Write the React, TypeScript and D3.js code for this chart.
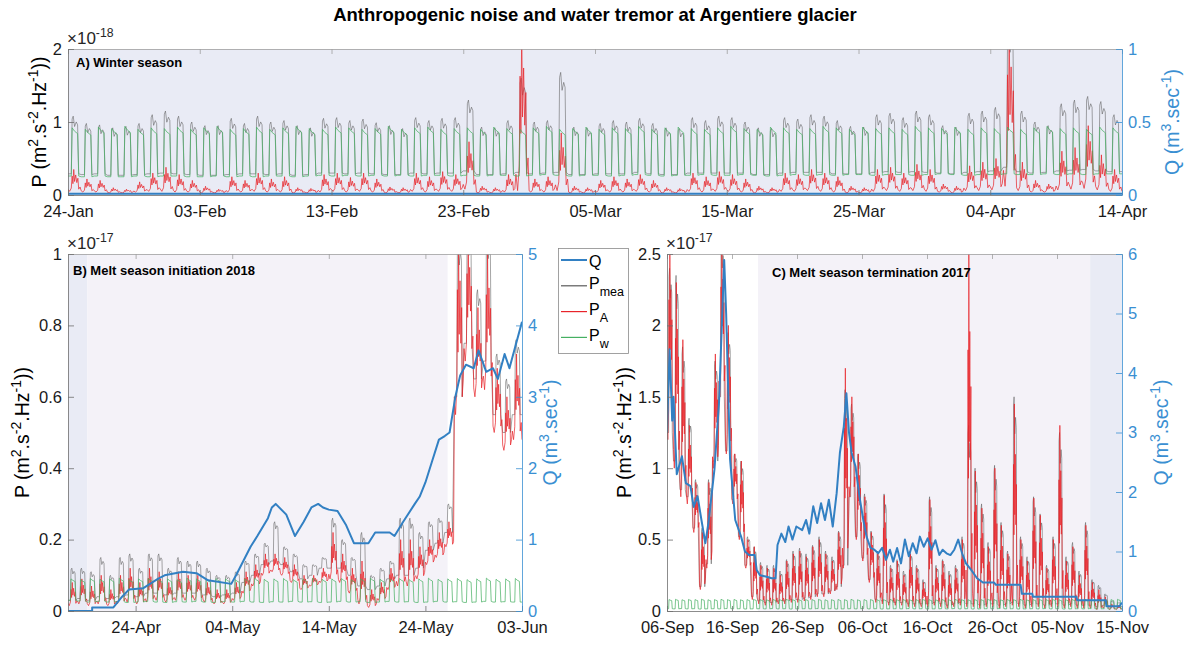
import React, { useRef, useEffect } from 'react';
import * as d3 from 'd3';

type Pt = [number, number];

// ---------- panel A : winter season 2018, day 0 = 24-Jan (P in 1e-18) ----------
const tickDaysA = [0, 10, 20, 30, 40, 50, 60, 70, 80];
const tickLabelsA = ['24-Jan', '03-Feb', '13-Feb', '23-Feb', '05-Mar', '15-Mar', '25-Mar', '04-Apr', '14-Apr'];
const pTicksA = [0, 1, 2];
const qTicksA = [0, 0.5, 1];

const pwLoA = [
  0.26, 0.25, 0.26, 0.25, 0.25, 0.26, 0.25, 0.26, 0.26, 0.25,
  0.25, 0.26, 0.25, 0.26, 0.25, 0.26, 0.26, 0.25, 0.26, 0.27,
  0.26, 0.27, 0.26, 0.27, 0.26, 0.27, 0.26, 0.27, 0.27, 0.26,
  0.27, 0.26, 0.27, 0.27, 0.26, 0.27, 0.28, 0.27, 0.26, 0.27,
  0.27, 0.26, 0.27, 0.28, 0.27, 0.26, 0.27, 0.27, 0.28, 0.27,
  0.27, 0.28, 0.27, 0.26, 0.27, 0.28, 0.27, 0.28, 0.27, 0.28,
  0.28, 0.27, 0.28, 0.28, 0.27, 0.28, 0.29, 0.28, 0.27, 0.28,
  0.28, 0.29, 0.28, 0.28, 0.29, 0.28, 0.29, 0.28, 0.29, 0.29,
];
const pwHiA = [
  0.92, 0.9, 0.93, 0.91, 0.94, 0.9, 0.92, 0.91, 0.93, 0.9,
  0.92, 0.94, 0.9, 0.91, 0.93, 0.9, 0.92, 0.94, 0.91, 0.9,
  0.93, 0.92, 0.9, 0.91, 0.94, 0.9, 0.92, 0.93, 0.9, 0.91,
  0.92, 0.9, 0.93, 0.91, 0.9, 0.92, 0.94, 0.9, 0.91, 0.93,
  0.9, 0.92, 0.91, 0.94, 0.9, 0.92, 0.93, 0.91, 0.9, 0.92,
  0.94, 0.91, 0.9, 0.93, 0.92, 0.9, 0.91, 0.94, 0.92, 0.9,
  0.93, 0.91, 0.92, 0.9, 0.94, 0.92, 0.91, 0.93, 0.9, 0.92,
  0.91, 0.93, 0.9, 0.92, 0.94, 0.91, 0.92, 0.9, 0.93, 0.92,
];
const paLoA = [
  0.05, 0.04, 0.04, 0.03, 0.03, 0.04, 0.05, 0.05, 0.04, 0.04,
  0.03, 0.03, 0.04, 0.04, 0.05, 0.04, 0.04, 0.03, 0.03, 0.04,
  0.05, 0.04, 0.05, 0.04, 0.03, 0.03, 0.05, 0.04, 0.05, 0.05,
  0.08, 0.03, 0.03, 0.04, 0.06, 0.04, 0.04, 0.06, 0.03, 0.03,
  0.04, 0.04, 0.04, 0.05, 0.04, 0.03, 0.03, 0.05, 0.04, 0.05,
  0.05, 0.04, 0.03, 0.03, 0.05, 0.05, 0.06, 0.05, 0.04, 0.03,
  0.03, 0.05, 0.06, 0.05, 0.06, 0.05, 0.04, 0.03, 0.06, 0.06,
  0.07, 0.12, 0.06, 0.04, 0.04, 0.07, 0.08, 0.09, 0.07, 0.05,
];
const paHiA = [
  0.35, 0.22, 0.2, 0.1, 0.08, 0.18, 0.3, 0.38, 0.28, 0.2,
  0.12, 0.08, 0.25, 0.2, 0.3, 0.22, 0.25, 0.1, 0.09, 0.28,
  0.3, 0.24, 0.3, 0.22, 0.11, 0.1, 0.3, 0.25, 0.32, 0.28,
  0.73, 0.12, 0.1, 0.28, 2.3, 0.22, 0.25, 0.85, 0.12, 0.1,
  0.2, 0.25, 0.22, 0.28, 0.2, 0.1, 0.09, 0.3, 0.25, 0.32,
  0.28, 0.22, 0.12, 0.1, 0.3, 0.28, 0.35, 0.3, 0.25, 0.12,
  0.1, 0.35, 0.38, 0.3, 0.42, 0.35, 0.15, 0.12, 0.4, 0.45,
  0.5, 2.3, 0.45, 0.2, 0.15, 0.6, 0.65, 0.95, 0.55, 0.35,
];
const pmeaLoA = [
  0.29, 0.28, 0.29, 0.27, 0.27, 0.28, 0.29, 0.3, 0.29, 0.28,
  0.27, 0.27, 0.28, 0.29, 0.29, 0.28, 0.29, 0.27, 0.28, 0.3,
  0.3, 0.29, 0.3, 0.29, 0.28, 0.28, 0.3, 0.29, 0.3, 0.3,
  0.33, 0.28, 0.28, 0.29, 0.31, 0.29, 0.3, 0.31, 0.28, 0.28,
  0.29, 0.29, 0.29, 0.31, 0.29, 0.28, 0.28, 0.3, 0.3, 0.3,
  0.3, 0.3, 0.28, 0.28, 0.3, 0.31, 0.31, 0.31, 0.29, 0.29,
  0.29, 0.31, 0.32, 0.31, 0.32, 0.31, 0.3, 0.29, 0.31, 0.32,
  0.33, 0.38, 0.32, 0.3, 0.31, 0.33, 0.34, 0.35, 0.33, 0.32,
];
const pmeaHiA = [
  1.08, 0.98, 0.96, 0.92, 0.94, 0.98, 1.1, 1.15, 1.08, 1.0,
  0.95, 0.95, 1.05, 0.98, 1.08, 1.0, 1.02, 0.95, 0.92, 1.05,
  1.06, 1.02, 1.04, 0.99, 0.95, 0.91, 1.06, 1.02, 1.05, 1.06,
  1.3, 0.93, 0.92, 1.02, 1.6, 1.0, 1.02, 1.68, 0.93, 0.92,
  0.98, 1.02, 1.0, 1.05, 0.98, 0.92, 0.91, 1.06, 1.02, 1.08,
  1.06, 1.0, 0.92, 0.91, 1.06, 1.04, 1.1, 1.08, 1.02, 0.94,
  0.93, 1.1, 1.12, 1.06, 1.15, 1.1, 0.95, 0.93, 1.12, 1.15,
  1.2, 2.3, 1.15, 1.0, 0.95, 1.25, 1.3, 1.35, 1.28, 1.1,
];
const qA: Pt[] = [[0, 0.008], [80, 0.008]];

// ---------- panel B : melt season initiation 2018, day 0 = 17-Apr (P in 1e-17) ----------
const tickDaysB = [7, 17, 27, 37, 47];
const tickLabelsB = ['24-Apr', '04-May', '14-May', '24-May', '03-Jun'];
const pTicksB = [0, 0.2, 0.4, 0.6, 0.8, 1];
const qTicksB = [0, 1, 2, 3, 4, 5];

const pwLoB = [
  0.03, 0.028, 0.025, 0.027, 0.025, 0.026, 0.024, 0.025, 0.027, 0.025,
  0.024, 0.026, 0.025, 0.027, 0.025, 0.024, 0.026, 0.025, 0.027, 0.025,
  0.024, 0.026, 0.025, 0.027, 0.025, 0.026, 0.024, 0.025, 0.027, 0.025,
  0.026, 0.024, 0.025, 0.027, 0.025, 0.026, 0.024, 0.025, 0.027, 0.025,
  0.026, 0.024, 0.025, 0.027, 0.025, 0.026, 0.025,
];
const pwHiB = [
  0.09, 0.088, 0.091, 0.089, 0.09, 0.092, 0.088, 0.09, 0.091, 0.089,
  0.09, 0.088, 0.092, 0.09, 0.089, 0.091, 0.09, 0.088, 0.09, 0.092,
  0.089, 0.09, 0.091, 0.088, 0.09, 0.092, 0.089, 0.09, 0.091, 0.088,
  0.09, 0.092, 0.089, 0.09, 0.091, 0.088, 0.09, 0.092, 0.089, 0.09,
  0.091, 0.088, 0.09, 0.092, 0.089, 0.09, 0.091,
];
const pmeaLoB = [
  0.03, 0.035, 0.03, 0.04, 0.035, 0.04, 0.045, 0.04, 0.05, 0.05,
  0.045, 0.05, 0.05, 0.05, 0.045, 0.04, 0.045, 0.05, 0.08, 0.1,
  0.13, 0.14, 0.13, 0.11, 0.09, 0.1, 0.12, 0.12, 0.12, 0.1,
  0.07, 0.06, 0.07, 0.09, 0.1, 0.1, 0.12, 0.17, 0.19, 0.22,
  0.6, 0.75, 0.65, 0.7, 0.55, 0.5, 0.55,
];
const pmeaHiB = [
  0.12, 0.12, 0.11, 0.15, 0.1, 0.15, 0.16, 0.12, 0.16, 0.16,
  0.12, 0.15, 0.14, 0.14, 0.12, 0.1, 0.1, 0.11, 0.14, 0.16,
  0.19, 0.25, 0.18, 0.16, 0.13, 0.13, 0.15, 0.26, 0.2, 0.15,
  0.22, 0.1, 0.12, 0.14, 0.26, 0.26, 0.22, 0.25, 0.26, 0.3,
  1.05, 1.05, 0.9, 1.05, 0.72, 0.65, 0.76,
];
const paLoB = [
  0.015, 0.02, 0.015, 0.02, 0.015, 0.02, 0.025, 0.02, 0.025, 0.03,
  0.025, 0.03, 0.03, 0.03, 0.025, 0.02, 0.02, 0.03, 0.05, 0.07,
  0.1, 0.11, 0.1, 0.08, 0.06, 0.07, 0.08, 0.09, 0.08, 0.05,
  0.02, 0.01, 0.03, 0.06, 0.07, 0.07, 0.09, 0.13, 0.15, 0.18,
  0.55, 0.7, 0.6, 0.62, 0.5, 0.45, 0.48,
];
const paHiB = [
  0.08, 0.09, 0.07, 0.1, 0.06, 0.1, 0.12, 0.08, 0.12, 0.11,
  0.08, 0.11, 0.1, 0.1, 0.08, 0.06, 0.06, 0.08, 0.11, 0.13,
  0.16, 0.16, 0.15, 0.13, 0.1, 0.1, 0.12, 0.22, 0.16, 0.12,
  0.14, 0.06, 0.08, 0.12, 0.2, 0.2, 0.18, 0.2, 0.22, 0.25,
  1.05, 1.05, 0.85, 1.0, 0.68, 0.6, 0.72,
];
const qB: Pt[] = [
  [0, 0], [2.5, 0], [2.5, 0.05], [4.7, 0.05], [5.6, 0.2], [6.3, 0.3], [7.8, 0.32], [9.3, 0.45],
  [10, 0.5], [11.9, 0.55], [13.3, 0.53], [14.5, 0.43], [16.9, 0.38], [17.4, 0.5], [18.9, 0.9],
  [19.6, 1.05], [20.7, 1.3], [21.1, 1.45], [21.5, 1.5], [22.6, 1.35], [23.5, 1.05], [24.4, 1.25],
  [25.2, 1.45], [25.9, 1.5], [26.4, 1.45], [27, 1.42], [27.9, 1.4], [28.8, 1.2], [29.6, 0.95],
  [31.1, 0.95], [31.8, 1.1], [33.3, 1.1], [33.8, 1.05], [34.7, 1.25], [35.9, 1.5], [36.4, 1.6],
  [37, 1.8], [37.7, 2.1], [38.4, 2.4], [39, 2.45], [39.5, 2.5], [40.1, 3.0], [40.6, 3.3],
  [41.2, 3.45], [42, 3.4], [42.5, 3.65], [43.3, 3.35], [44, 3.4], [44.5, 3.25], [45.2, 3.6],
  [45.7, 3.4], [46.3, 3.7], [47, 4.05],
];

// ---------- panel C : melt season termination 2017, day 0 = 06-Sep (P in 1e-17) ----------
const tickDaysC = [0, 10, 20, 30, 40, 50, 60, 70];
const tickLabelsC = ['06-Sep', '16-Sep', '26-Sep', '06-Oct', '16-Oct', '26-Oct', '05-Nov', '15-Nov'];
const pTicksC = [0, 0.5, 1, 1.5, 2, 2.5];
const qTicksC = [0, 1, 2, 3, 4, 5, 6];

const pwLoC = [
  0.016, 0.015, 0.017, 0.015, 0.016, 0.014, 0.015, 0.016, 0.015, 0.017,
  0.015, 0.016, 0.014, 0.015, 0.016, 0.015, 0.017, 0.015, 0.016, 0.014,
  0.015, 0.016, 0.015, 0.017, 0.015, 0.016, 0.014, 0.015, 0.016, 0.015,
  0.017, 0.015, 0.016, 0.014, 0.015, 0.016, 0.015, 0.017, 0.015, 0.016,
  0.014, 0.015, 0.016, 0.015, 0.017, 0.015, 0.016, 0.014, 0.015, 0.016,
  0.015, 0.017, 0.015, 0.016, 0.014, 0.015, 0.016, 0.015, 0.017, 0.015,
  0.016, 0.014, 0.015, 0.016, 0.015, 0.017, 0.015, 0.016, 0.014, 0.015,
];
const pwHiC = [
  0.08, 0.082, 0.079, 0.081, 0.08, 0.083, 0.079, 0.08, 0.082, 0.08,
  0.081, 0.079, 0.08, 0.082, 0.08, 0.079, 0.081, 0.08, 0.083, 0.08,
  0.079, 0.081, 0.08, 0.082, 0.079, 0.08, 0.081, 0.08, 0.082, 0.079,
  0.08, 0.081, 0.079, 0.08, 0.082, 0.08, 0.081, 0.079, 0.08, 0.082,
  0.08, 0.079, 0.081, 0.08, 0.082, 0.08, 0.079, 0.081, 0.08, 0.083,
  0.08, 0.079, 0.081, 0.08, 0.082, 0.079, 0.08, 0.081, 0.08, 0.082,
  0.079, 0.08, 0.081, 0.08, 0.082, 0.08, 0.079, 0.081, 0.08, 0.082,
];
const paLoC = [
  1.2, 1.0, 0.8, 0.75, 0.55, 0.15, 0.3, 1.0, 1.5, 1.1,
  0.75, 0.5, 0.3, 0.08, 0.05, 0.04, 0.04, 0.05, 0.05, 0.06,
  0.06, 0.07, 0.08, 0.1, 0.1, 0.12, 0.15, 0.3, 0.8, 0.5,
  0.35, 0.2, 0.06, 0.05, 0.04, 0.04, 0.04, 0.03, 0.03, 0.03,
  0.03, 0.04, 0.03, 0.02, 0.03, 0.04, 0.03, 0.03, 0.02, 0.03,
  0.03, 0.02, 0.03, 0.04, 0.03, 0.02, 0.03, 0.03, 0.02, 0.03,
  0.03, 0.02, 0.03, 0.02, 0.02, 0.02, 0.01, 0.02, 0.01, 0.01,
];
const paHiC = [
  2.6, 2.3, 1.9, 1.3, 0.9, 0.55, 0.9, 1.8, 2.6, 2.0,
  1.1, 1.05, 0.5, 0.45, 0.32, 0.3, 0.3, 0.25, 0.35, 0.4,
  0.42, 0.38, 0.45, 0.5, 0.4, 0.35, 0.55, 1.7, 1.5, 1.1,
  0.8, 0.55, 0.4, 0.81, 0.3, 0.35, 0.25, 0.4, 0.3, 0.2,
  0.78, 0.3, 0.35, 0.25, 0.3, 0.5, 2.6, 0.98, 0.72, 0.45,
  1.0, 0.6, 0.4, 1.45, 0.5, 0.35, 0.79, 0.67, 0.3, 0.5,
  1.3, 0.35, 0.45, 0.25, 0.6, 0.2, 0.15, 0.1, 0.05, 0.04,
];
const pmeaLoC = [
  1.25, 1.05, 0.85, 0.8, 0.58, 0.17, 0.33, 1.05, 1.5, 1.12,
  0.78, 0.52, 0.32, 0.1, 0.07, 0.06, 0.06, 0.07, 0.07, 0.08,
  0.08, 0.09, 0.1, 0.12, 0.12, 0.14, 0.17, 0.32, 0.8, 0.52,
  0.37, 0.22, 0.08, 0.07, 0.06, 0.06, 0.06, 0.05, 0.05, 0.05,
  0.05, 0.06, 0.05, 0.04, 0.05, 0.06, 0.05, 0.05, 0.04, 0.05,
  0.05, 0.04, 0.05, 0.06, 0.05, 0.04, 0.05, 0.05, 0.04, 0.05,
  0.05, 0.04, 0.05, 0.04, 0.04, 0.04, 0.03, 0.04, 0.03, 0.03,
];
const pmeaHiC = [
  2.4, 2.35, 1.85, 1.35, 0.92, 0.58, 0.92, 1.75, 2.6, 1.95,
  1.1, 1.05, 0.52, 0.45, 0.34, 0.32, 0.32, 0.28, 0.36, 0.42,
  0.44, 0.4, 0.46, 0.52, 0.42, 0.38, 0.56, 1.55, 1.45, 1.1,
  0.82, 0.56, 0.42, 0.82, 0.32, 0.36, 0.28, 0.42, 0.32, 0.22,
  0.8, 0.32, 0.36, 0.28, 0.32, 0.52, 1.3, 1.0, 0.75, 0.48,
  1.02, 0.62, 0.42, 1.5, 0.52, 0.38, 0.8, 0.68, 0.32, 0.52,
  1.25, 0.38, 0.48, 0.28, 0.62, 0.22, 0.18, 0.12, 0.07, 0.06,
];
const qC: Pt[] = [
  [0, 3.0], [0.4, 4.4], [0.8, 3.2], [1.0, 3.6], [1.5, 2.3], [2.3, 2.6], [2.9, 2.15], [3.6, 2.1],
  [4.1, 1.75], [4.7, 1.93], [5.3, 1.53], [5.9, 1.14], [6.4, 1.5], [7.3, 2.38], [8.0, 3.5],
  [8.5, 5.0], [8.8, 5.9], [9.1, 5.0], [9.7, 2.55], [10.5, 1.53], [11.4, 1.25], [12.0, 1.0],
  [12.6, 0.94], [13.5, 0.94], [13.8, 0.69], [14.3, 0.6], [15.2, 0.58], [16.1, 0.55], [16.7, 0.55],
  [17.0, 1.11], [17.6, 1.3], [18.2, 1.16], [18.7, 1.42], [19.3, 1.2], [19.9, 1.42], [20.8, 1.36],
  [21.4, 1.53], [21.9, 1.3], [22.5, 1.76], [23.1, 1.48], [23.7, 1.81], [24.3, 1.53], [24.9, 1.87],
  [25.5, 1.42], [26.1, 1.98], [26.6, 2.66], [27.2, 3.1], [27.6, 3.66], [28.0, 3.0], [28.4, 2.66],
  [29.0, 2.43], [29.6, 1.93], [30.2, 1.53], [30.7, 1.25], [31.3, 1.06], [31.9, 1.03], [32.5, 0.97],
  [33.1, 1.06], [33.7, 0.86], [34.3, 1.03], [34.8, 0.83], [35.4, 1.06], [36.0, 0.8], [36.6, 1.2],
  [37.2, 0.92], [37.8, 1.14], [38.4, 0.97], [38.9, 1.25], [39.5, 1.08], [40.1, 1.22], [40.7, 1.03],
  [41.3, 1.19], [41.9, 0.94], [42.4, 1.03], [43.0, 0.97], [43.6, 0.94], [44.2, 1.03], [44.8, 1.2],
  [45.4, 0.97], [46.0, 0.8], [46.8, 0.69], [47.7, 0.55], [48.6, 0.48], [50.3, 0.48], [50.6, 0.44],
  [54.4, 0.44], [54.6, 0.29], [56.2, 0.29], [56.3, 0.24], [63.0, 0.24], [63.1, 0.18], [67.5, 0.18],
  [67.6, 0.08], [69.6, 0.08], [70, 0.14],
];

// shaded periods, in days of each panel
const bandsA: Pt[] = [[0, 80]];
const bandsB: Pt[] = [[0, 2], [2, 39.3]];
const bandsC: Pt[] = [[14, 65.1], [65.1, 70]];

// daily shapes (hour of day, fraction between night level and day level)
const pwHours = [0, 6, 7.5, 12, 17.5, 19.5];
const pwShape = [0, 0, 1, 0.93, 0.88, 0];
const pmeaHours = [0, 6, 7.5, 9.5, 12, 15, 17.5, 19.5];
const pmeaShape = [0, 0, 0.95, 1, 0.82, 0.9, 0.85, 0];
const paHours = [0, 3, 6, 7.5, 9, 10.5, 12, 14, 16, 18, 19.5, 22];
const paShape = [0.1, 0, 0.15, 0.7, 0.35, 1, 0.45, 0.75, 0.4, 0.6, 0.1, 0.2];

const W = 1189;
const H = 646;
const FONT = '"Liberation Sans", Arial, Helvetica, sans-serif';
const BLUE = '#3280c3';
const BLUE_AX = '#3a8fd2';
const GREY = '#5a5a5a';
const RED = '#e8242a';
const GREEN = '#45b062';
const WINTER_BG = '#e9ebf5';
const MELT_BG = '#f4f2f8';

function daily(lo: number[], hi: number[], hours: number[], shape: number[]): Pt[] {
  const pts: Pt[] = [];
  lo.forEach((l, i) => {
    hours.forEach((h, k) => pts.push([i + h / 24, l + shape[k] * (hi[i] - l)]));
  });
  pts.push([lo.length, lo[lo.length - 1]]);
  return pts;
}

function supText(t: any, parts: [string, boolean][], size: number) {
  let up = false;
  parts.forEach(([s, sup]) => {
    const sp = t.append('tspan').text(s);
    if (sup && !up) sp.attr('dy', -size * 0.42).attr('font-size', size * 0.72);
    if (!sup && up) sp.attr('dy', size * 0.42);
    if (sup && up) sp.attr('font-size', size * 0.72);
    up = sup;
  });
}

function drawPanel(svg: any, c: any) {
  const x = d3.scaleLinear().domain([0, c.days]).range([c.left, c.right]);
  const y = d3.scaleLinear().domain([0, c.pMax]).range([c.bottom, c.top]);
  const yq = d3.scaleLinear().domain([0, c.qMax]).range([c.bottom, c.top]);
  const g = svg.append('g');

  c.bands.forEach((b: Pt, i: number) => {
    g.append('rect')
      .attr('x', x(b[0])).attr('y', c.top)
      .attr('width', x(b[1]) - x(b[0])).attr('height', c.bottom - c.top)
      .attr('fill', c.bandColors[i]);
  });

  svg.append('clipPath').attr('id', 'clip' + c.id)
    .append('rect')
    .attr('x', c.left).attr('y', c.top)
    .attr('width', c.right - c.left).attr('height', c.bottom - c.top);

  const lines = g.append('g').attr('clip-path', `url(#clip${c.id})`);
  const lp = d3.line<Pt>().x(d => x(d[0])).y(d => y(d[1]));
  const lq = d3.line<Pt>().x(d => x(d[0])).y(d => yq(d[1]));

  lines.append('path').attr('d', lp(c.pmea)).attr('fill', 'none')
    .attr('stroke', GREY).attr('stroke-width', 0.9).attr('stroke-opacity', 0.6);
  lines.append('path').attr('d', lp(c.pa)).attr('fill', 'none')
    .attr('stroke', RED).attr('stroke-width', 0.9).attr('stroke-opacity', 0.8);
  lines.append('path').attr('d', lp(c.pw)).attr('fill', 'none')
    .attr('stroke', GREEN).attr('stroke-width', 0.9).attr('stroke-opacity', 0.8);
  lines.append('path').attr('d', lq(c.q)).attr('fill', 'none')
    .attr('stroke', BLUE).attr('stroke-width', 2).attr('stroke-linejoin', 'round');

  const style = (ax: any, stroke: string, fill: string) => {
    ax.attr('font-family', FONT).attr('font-size', 16.5);
    ax.select('.domain').attr('stroke', stroke).attr('stroke-width', 0.8);
    ax.selectAll('.tick line').attr('stroke', stroke).attr('stroke-width', 0.8);
    ax.selectAll('.tick text').attr('fill', fill);
  };

  const top = g.append('g').attr('transform', `translate(0,${c.top})`)
    .call(d3.axisTop(x).tickValues(c.tickDays).tickFormat(() => '').tickSizeInner(-5).tickSizeOuter(0));
  style(top, '#a0a0a0', '#000');

  const bottom = g.append('g').attr('transform', `translate(0,${c.bottom})`)
    .call(d3.axisBottom(x).tickValues(c.tickDays)
      .tickFormat((d: any, i: number) => c.tickLabels[i]).tickSizeInner(-5).tickSizeOuter(0).tickPadding(10));
  style(bottom, '#6e6e6e', '#1a1a1a');

  const left = g.append('g').attr('transform', `translate(${c.left},0)`)
    .call(d3.axisLeft(y).tickValues(c.pTicks).tickFormat(d3.format('~g')).tickSizeInner(-6).tickSizeOuter(0).tickPadding(6));
  style(left, '#6e6e6e', '#1a1a1a');

  const right = g.append('g').attr('transform', `translate(${c.right},0)`)
    .call(d3.axisRight(yq).tickValues(c.qTicks).tickFormat(d3.format('~g')).tickSizeInner(-6).tickSizeOuter(0).tickPadding(6));
  style(right, BLUE_AX, BLUE_AX);

  // exponent above the left axis
  const ex = g.append('text').attr('x', c.left - 1).attr('y', c.top - 5)
    .attr('font-family', FONT).attr('font-size', 17).attr('fill', '#262626');
  supText(ex, [['\u00d710', false], [c.exponent, true]], 17);

  // panel caption
  g.append('text').attr('x', c.titleX).attr('y', c.titleY)
    .attr('font-family', FONT).attr('font-size', 13).attr('font-weight', 'bold').text(c.title);

  // axis titles
  const cy = (c.top + c.bottom) / 2;
  const pl = g.append('text').attr('transform', `translate(${c.leftLabelX},${cy}) rotate(-90)`)
    .attr('text-anchor', 'middle').attr('font-family', FONT).attr('font-size', 19.5).attr('fill', '#000');
  supText(pl, [['P (m', false], ['2', true], ['.s', false], ['-2', true], ['.Hz', false], ['-1', true], ['))', false]], 19.5);
  const ql = g.append('text').attr('transform', `translate(${c.rightLabelX},${cy}) rotate(-90)`)
    .attr('text-anchor', 'middle').attr('font-family', FONT).attr('font-size', 19.5).attr('fill', BLUE_AX);
  supText(ql, [['Q (m', false], ['3', true], ['.sec', false], ['-1', true], [')', false]], 19.5);
}

const legendNames = ['Q', 'P', 'P', 'P'];
const legendSubs = ['', 'mea', 'A', 'w'];
const legendColors = [BLUE, GREY, RED, GREEN];

function drawLegend(svg: any) {
  const g = svg.append('g').attr('font-family', FONT);
  g.append('rect').attr('x', 558.5).attr('y', 248.5).attr('width', 70).attr('height', 105)
    .attr('fill', '#fff').attr('stroke', '#8a8a8a').attr('stroke-width', 0.8);
  legendNames.forEach((n, i) => {
    const ly = 260 + i * 25.8;
    g.append('line').attr('x1', 561).attr('x2', 587).attr('y1', ly).attr('y2', ly)
      .attr('stroke', legendColors[i]).attr('stroke-width', i === 0 ? 2 : 1.2);
    const t = g.append('text').attr('x', 589).attr('y', ly + (i === 0 ? 6.5 : 3.5)).attr('font-size', 16).attr('fill', '#000');
    t.append('tspan').text(n);
    if (legendSubs[i]) t.append('tspan').attr('dy', 7).attr('font-size', 12.5).text(legendSubs[i]);
  });
}

const App = () => {
  const svgRef = useRef<SVGSVGElement>(null);

  useEffect(() => {
    const svg = d3.select(svgRef.current);
    svg.selectAll('*').remove();
    svg.append('rect').attr('width', W).attr('height', H).attr('fill', '#fff');

    svg.append('text').attr('x', 595).attr('y', 21).attr('text-anchor', 'middle')
      .attr('font-family', FONT).attr('font-size', 18.5).attr('font-weight', 'bold')
      .text('Anthropogenic noise and water tremor at Argentiere glacier');

    drawPanel(svg, {
      id: 'A', left: 68, right: 1122, top: 49, bottom: 195, days: 80,
      tickDays: tickDaysA, tickLabels: tickLabelsA, pMax: 2, pTicks: pTicksA, qMax: 1, qTicks: qTicksA,
      exponent: '-18', title: 'A) Winter season', titleX: 76, titleY: 67,
      bands: bandsA, bandColors: [WINTER_BG],
      pmea: daily(pmeaLoA, pmeaHiA, pmeaHours, pmeaShape),
      pa: daily(paLoA, paHiA, paHours, paShape),
      pw: daily(pwLoA, pwHiA, pwHours, pwShape),
      q: qA, leftLabelX: 46, rightLabelX: 1179,
    });

    drawPanel(svg, {
      id: 'B', left: 68, right: 522, top: 254, bottom: 611, days: 47,
      tickDays: tickDaysB, tickLabels: tickLabelsB, pMax: 1, pTicks: pTicksB, qMax: 5, qTicks: qTicksB,
      exponent: '-17', title: 'B) Melt season initiation 2018', titleX: 73, titleY: 275,
      bands: bandsB, bandColors: [WINTER_BG, MELT_BG],
      pmea: daily(pmeaLoB, pmeaHiB, pmeaHours, pmeaShape),
      pa: daily(paLoB, paHiB, paHours, paShape),
      pw: daily(pwLoB, pwHiB, pwHours, pwShape),
      q: qB, leftLabelX: 29, rightLabelX: 557,
    });

    drawPanel(svg, {
      id: 'C', left: 667, right: 1122, top: 254, bottom: 611, days: 70,
      tickDays: tickDaysC, tickLabels: tickLabelsC, pMax: 2.5, pTicks: pTicksC, qMax: 6, qTicks: qTicksC,
      exponent: '-17', title: 'C) Melt season termination 2017', titleX: 772, titleY: 277,
      bands: bandsC, bandColors: [MELT_BG, WINTER_BG],
      pmea: daily(pmeaLoC, pmeaHiC, pmeaHours, pmeaShape),
      pa: daily(paLoC, paHiC, paHours, paShape),
      pw: daily(pwLoC, pwHiC, pwHours, pwShape),
      q: qC, leftLabelX: 631, rightLabelX: 1168,
    });

    drawLegend(svg);
  }, []);

  return <svg ref={svgRef} width={W} height={H} style={{ position: 'absolute', left: 0, top: 0 }} />;
};

export default App;
